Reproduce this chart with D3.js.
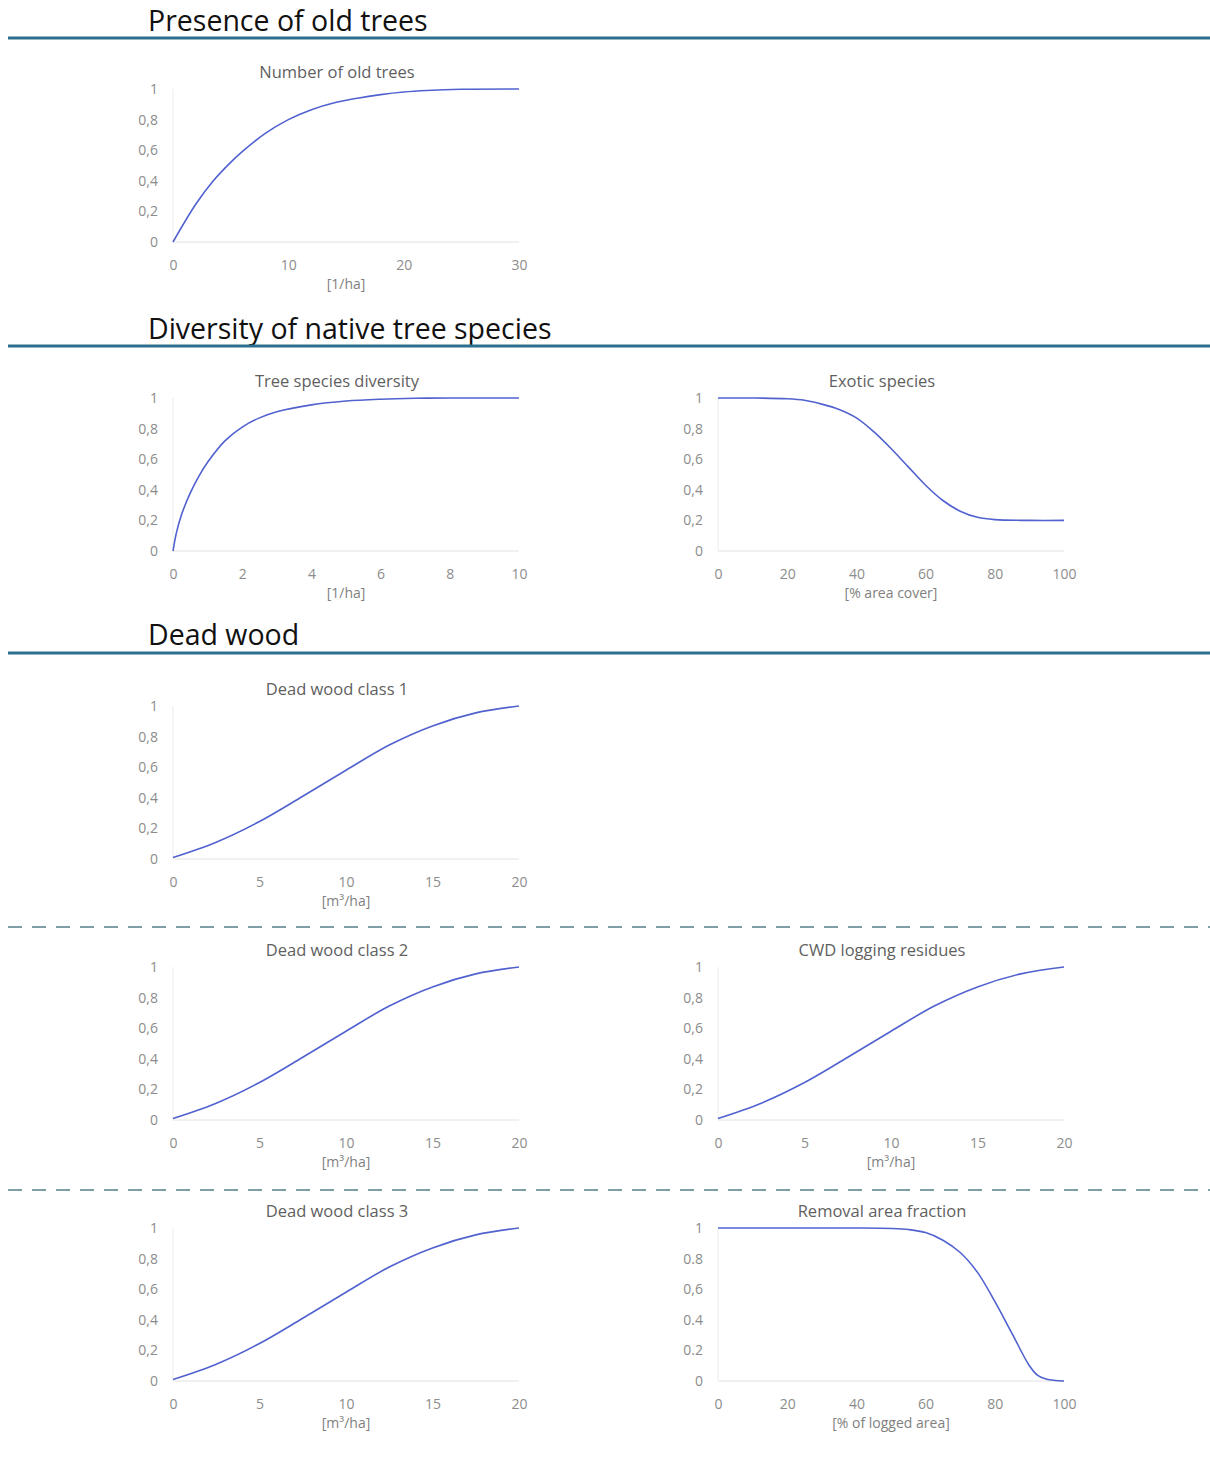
<!DOCTYPE html>
<html>
<head>
<meta charset="utf-8">
<script src="https://cdn.jsdelivr.net/npm/d3@7"></script>
<style>
  body { margin: 0; background: #fff; }
  svg { display: block; font-family: "Open Sans", "Noto Sans", sans-serif; }
</style>
</head>
<body>
<div id="chart"></div>
<script>
// section headings
var sectionTitles = ["Presence of old trees", "Diversity of native tree species", "Dead wood"];

// curve values
var oldTreesX = [0, 2, 3.5, 5, 6, 8, 10, 12, 14, 16, 18, 20, 22, 25, 30];
var oldTreesY = [0, 0.25, 0.4, 0.52, 0.59, 0.71, 0.8, 0.865, 0.91, 0.94, 0.963, 0.98, 0.99, 0.998, 1];

var diversityX = [0, 0.1, 0.25, 0.5, 0.75, 1, 1.5, 2, 2.5, 3, 4, 5, 6, 7, 8, 10];
var diversityY = [0, 0.12, 0.24, 0.38, 0.49, 0.58, 0.72, 0.81, 0.87, 0.91, 0.955, 0.98, 0.992, 0.998, 1, 1];

var exoticX = [0, 10, 20, 25, 30, 35, 40, 45, 50, 55, 60, 65, 70, 75, 80, 90, 100];
var exoticY = [1, 1, 0.995, 0.985, 0.96, 0.925, 0.87, 0.78, 0.67, 0.55, 0.43, 0.33, 0.26, 0.22, 0.205, 0.2, 0.2];

var deadWoodX = [0, 2.5, 5, 7.5, 10, 12.5, 15, 17.5, 20];
var deadWoodY = [0.01, 0.11, 0.245, 0.41, 0.58, 0.745, 0.87, 0.955, 1];

var removalX = [0, 20, 40, 50, 55, 60, 65, 70, 75, 80, 85, 90, 92.5, 95, 100];
var removalY = [1, 1, 1, 0.997, 0.99, 0.97, 0.92, 0.84, 0.71, 0.52, 0.31, 0.1, 0.035, 0.012, 0];

// tick labels
var yTicks = [0, 0.2, 0.4, 0.6, 0.8, 1];
var yLabelsComma = ["0", "0,2", "0,4", "0,6", "0,8", "1"];
var yLabelsDot = ["0", "0.2", "0.4", "0,6", "0.8", "1"];
var ticks30 = [0, 10, 20, 30];
var ticks10 = [0, 2, 4, 6, 8, 10];
var ticks100 = [0, 20, 40, 60, 80, 100];
var ticks20 = [0, 5, 10, 15, 20];

var charts = [
  {title: "Number of old trees", unit: "[1/ha]", xs: oldTreesX, ys: oldTreesY, domain: [0, 30], xticks: ticks30, ylabels: yLabelsComma, col: 0, row: 0},
  {title: "Tree species diversity", unit: "[1/ha]", xs: diversityX, ys: diversityY, domain: [0, 10], xticks: ticks10, ylabels: yLabelsComma, col: 0, row: 1},
  {title: "Exotic species", unit: "[% area cover]", xs: exoticX, ys: exoticY, domain: [0, 100], xticks: ticks100, ylabels: yLabelsComma, col: 1, row: 1},
  {title: "Dead wood class 1", unit: "[m³/ha]", xs: deadWoodX, ys: deadWoodY, domain: [0, 20], xticks: ticks20, ylabels: yLabelsComma, col: 0, row: 2},
  {title: "Dead wood class 2", unit: "[m³/ha]", xs: deadWoodX, ys: deadWoodY, domain: [0, 20], xticks: ticks20, ylabels: yLabelsComma, col: 0, row: 3},
  {title: "CWD logging residues", unit: "[m³/ha]", xs: deadWoodX, ys: deadWoodY, domain: [0, 20], xticks: ticks20, ylabels: yLabelsComma, col: 1, row: 3},
  {title: "Dead wood class 3", unit: "[m³/ha]", xs: deadWoodX, ys: deadWoodY, domain: [0, 20], xticks: ticks20, ylabels: yLabelsComma, col: 0, row: 4},
  {title: "Removal area fraction", unit: "[% of logged area]", xs: removalX, ys: removalY, domain: [0, 100], xticks: ticks100, ylabels: yLabelsDot, col: 1, row: 4}
];

var width = 1210, height = 1472;
var colLeft = [173, 718];
var plotW = 346, plotH = 153;
var rowTop = [89, 398, 706, 967, 1228];
var headerY = [31, 339, 645];
var headerLineY = [38, 346, 653];
var dashY = [927, 1190];

var svg = d3.select("#chart").append("svg")
  .attr("width", width)
  .attr("height", height);

/* section headings */
sectionTitles.forEach(function(t, i) {
  svg.append("text")
    .attr("x", 148)
    .attr("y", headerY[i])
    .attr("font-size", "28.5px")
    .attr("fill", "#111")
    .text(t);
  svg.append("line")
    .attr("x1", 8).attr("x2", width)
    .attr("y1", headerLineY[i]).attr("y2", headerLineY[i])
    .attr("stroke", "#2c6e8e")
    .attr("stroke-width", 3);
});

dashY.forEach(function(y) {
  svg.append("line")
    .attr("x1", 8).attr("x2", width)
    .attr("y1", y).attr("y2", y)
    .attr("stroke", "#7f9ea6")
    .attr("stroke-width", 2)
    .attr("stroke-dasharray", "14,10");
});

/* small charts */
charts.forEach(function(c) {
  var left = colLeft[c.col], top = rowTop[c.row];
  var x = d3.scaleLinear().domain(c.domain).range([left, left + plotW]);
  var y = d3.scaleLinear().domain([0, 1]).range([top + plotH, top]);
  var g = svg.append("g");

  // title
  g.append("text")
    .attr("x", left + plotW / 2 - 9)
    .attr("y", top - 11)
    .attr("text-anchor", "middle")
    .attr("font-size", "16.5px")
    .attr("fill", "#5f5f5f")
    .text(c.title);

  // light axis lines
  g.append("line")
    .attr("x1", x(c.domain[0])).attr("x2", x(c.domain[1]))
    .attr("y1", y(0)).attr("y2", y(0))
    .attr("stroke", "#e2e2e2");
  g.append("line")
    .attr("x1", x(c.domain[0])).attr("x2", x(c.domain[0]))
    .attr("y1", y(0)).attr("y2", y(1))
    .attr("stroke", "#ececec");

  var yAxis = d3.axisLeft(y)
    .tickValues(yTicks)
    .tickFormat(function(d, i) { return c.ylabels[i]; })
    .tickSize(0)
    .tickPadding(10);
  var ya = g.append("g")
    .attr("transform", `translate(${left - 5},0)`)
    .call(yAxis);
  ya.select(".domain").remove();
  ya.selectAll("text")
    .attr("font-size", "14px")
    .attr("font-family", "Open Sans, sans-serif")
    .attr("fill", "#8c8c8c");

  var xAxis = d3.axisBottom(x)
    .tickValues(c.xticks)
    .tickSize(0)
    .tickPadding(10);
  var xa = g.append("g")
    .attr("transform", `translate(0,${y(0) + 8})`)
    .call(xAxis);
  xa.select(".domain").remove();
  xa.selectAll("text")
    .attr("font-size", "14px")
    .attr("font-family", "Open Sans, sans-serif")
    .attr("fill", "#8c8c8c");

  g.append("text")
    .attr("x", left + plotW / 2)
    .attr("y", y(0) + 47)
    .attr("text-anchor", "middle")
    .attr("font-size", "14px")
    .attr("fill", "#7f7f7f")
    .text(c.unit);

  var pts = c.xs.map(function(v, i) { return [v, c.ys[i]]; });
  var line = d3.line()
    .x(d => x(d[0]))
    .y(d => y(d[1]))
    .curve(d3.curveCatmullRom.alpha(0.5));
  g.append("path")
    .attr("d", line(pts))
    .attr("fill", "none")
    .attr("stroke", "#5162cf")
    .attr("stroke-width", 1.6);
});
</script>
</body>
</html>
